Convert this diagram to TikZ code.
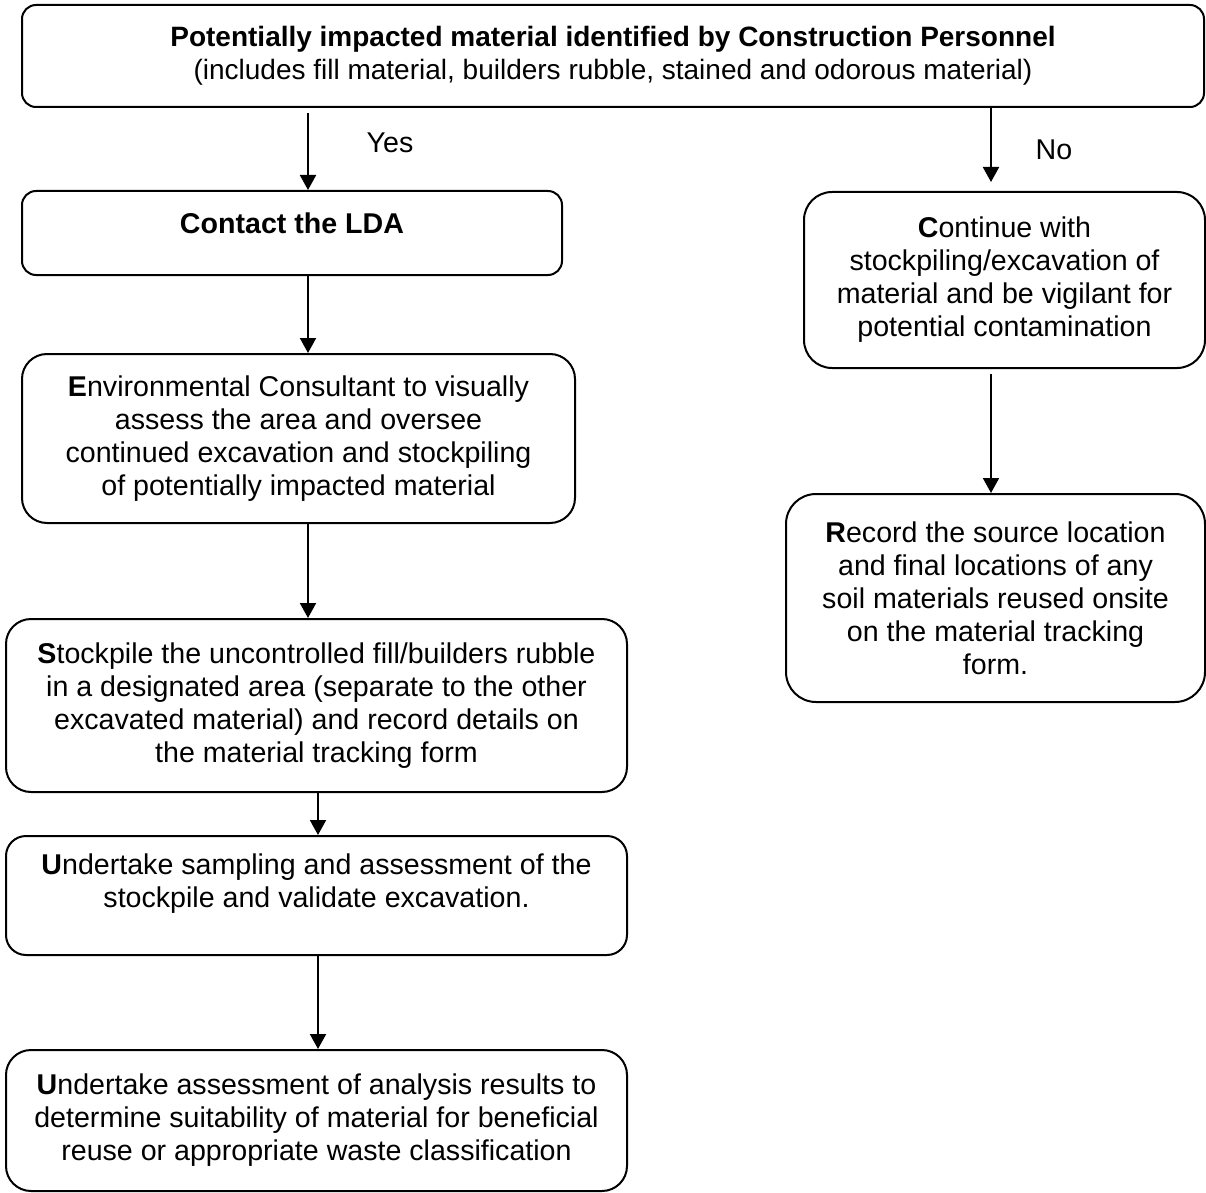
\documentclass[tikz,border=0pt]{standalone}
\usepackage{fontspec}
\setmainfont{Liberation Sans}
\usetikzlibrary{arrows.meta,calc}
\begin{document}
\begin{tikzpicture}[x=0.5pt,y=-0.5pt,
  box/.style={draw, line width=1pt, rounded corners=12.5pt, inner sep=0pt, align=center, font=\fontsize{14.3}{16.5}\selectfont},
  txt/.style={inner sep=0pt, align=center, font=\fontsize{14.3}{16.5}\selectfont},
  arr/.style={line width=1pt, -{Triangle[length=7.5pt,width=8pt]}}]
\fill[white] (0,0) rectangle (1206,1193);
\useasboundingbox (0,0) rectangle (1206,1193);

% boxes
\node[box, font=\fontsize{14}{16.5}\selectfont, rounded corners=7pt, minimum width=591pt, minimum height=51pt] (top) at (613,56)
  {\textbf{Potentially impacted material identified by Construction Personnel}\\(includes fill material, builders rubble, stained and odorous material)};

\node[box, rounded corners=7pt, minimum width=270pt, minimum height=42pt] (lda) at (292,233) {};
\node[txt] (ldatext) at (292,223) {\textbf{Contact the LDA}};

\node[box, minimum width=276.5pt, minimum height=84.5pt] (env) at (298.5,438.5)
  {\textbf{E}nvironmental Consultant to visually\\assess the area and oversee\\continued excavation and stockpiling\\of potentially impacted material};

\node[box, minimum width=310.5pt, minimum height=86.5pt] (stock) at (316.5,705.5)
  {\textbf{S}tockpile the uncontrolled fill/builders rubble\\in a designated area (separate to the other\\excavated material) and record details on\\the material tracking form};

\node[box, rounded corners=10pt, minimum width=310.5pt, minimum height=59.5pt] (samp) at (316.5,895.5) {};
\node[txt] (samptext) at (316.5,884)
  {\textbf{U}ndertake sampling and assessment of the\\stockpile and validate excavation.};

\node[box, minimum width=310.5pt, minimum height=70.5pt] (assess) at (316.5,1120.5)
  {\textbf{U}ndertake assessment of analysis results to\\determine suitability of material for beneficial\\reuse or appropriate waste classification};

\node[box, rounded corners=14pt, minimum width=200.5pt, minimum height=88pt] (cont) at (1004.5,280)
  {\textbf{C}ontinue with\\stockpiling/excavation of\\material and be vigilant for\\potential contamination};

\node[box, rounded corners=15pt, minimum width=209.5pt, minimum height=104pt] (rec) at (995.5,598)
  {\textbf{R}ecord the source location\\and final locations of any\\soil materials reused onsite\\on the material tracking\\form.};

% labels
\node[txt] (yes) at (390,142.5) {Yes};
\node[txt] (no) at (1054,150) {No};

% arrow columns
\coordinate (xl) at (308,0);
\coordinate (xs) at (318,0);
\coordinate (xr) at (991,0);

\draw[arr] ($(top.south -| xl)+(0,5)$) -- (lda.north -| xl);
\draw[arr] (top.south -| xr) -- ($(cont.north -| xr)+(0,-9)$);
\draw[arr] (lda.south -| xl) -- (env.north -| xl);
\draw[arr] (env.south -| xl) -- (stock.north -| xl);
\draw[arr] (stock.south -| xs) -- (samp.north -| xs);
\draw[arr] (samp.south -| xs) -- (assess.north -| xs);
\draw[arr] ($(cont.south -| xr)+(0,5)$) -- (rec.north -| xr);
\end{tikzpicture}
\end{document}
